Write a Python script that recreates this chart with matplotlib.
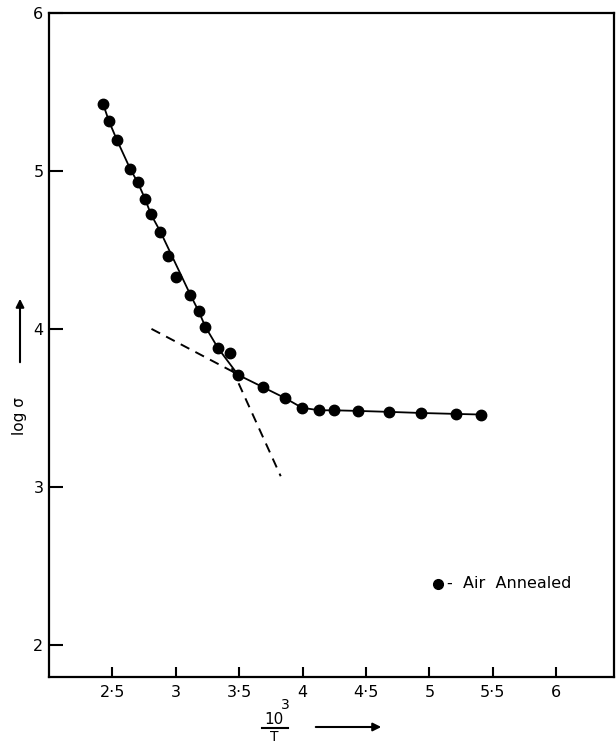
"""
log sigma vs 10^3/T - air annealed sample.
"""
import matplotlib
matplotlib.use("Agg")
import matplotlib.pyplot as plt

inv_t = [2.426, 2.473, 2.536, 2.642, 2.700, 2.757, 2.804, 2.879, 2.942, 3.005,
         3.115, 3.181, 3.233, 3.333, 3.425, 3.491, 3.688, 3.864, 3.995, 4.132,
         4.245, 4.440, 4.681, 4.934, 5.213, 5.410]
log_sigma = [5.426, 5.315, 5.196, 5.011, 4.928, 4.825, 4.726, 4.616, 4.460, 4.329,
             4.217, 4.112, 4.015, 3.880, 3.850, 3.711, 3.633, 3.563, 3.503, 3.487,
             3.487, 3.483, 3.477, 3.470, 3.464, 3.460]

# hand drawn curve through the points
curve_x = [2.426, 2.473, 2.536, 2.642, 2.700, 2.757, 2.804, 2.879, 3.115,
           3.181, 3.233, 3.333, 3.491, 3.688, 3.864, 3.995, 4.132, 4.245,
           4.440, 4.681, 4.934, 5.213, 5.410]
curve_y = [5.426, 5.315, 5.196, 5.011, 4.928, 4.825, 4.726, 4.616, 4.217,
           4.112, 4.015, 3.880, 3.711, 3.633, 3.563, 3.503, 3.487, 3.487,
           3.483, 3.477, 3.470, 3.464, 3.460]

# dashed extrapolations
dash1_x = [2.808, 3.457]
dash1_y = [4.002, 3.728]
dash2_x = [3.441, 3.827]
dash2_y = [3.753, 3.070]

xticks = [2.5, 3, 3.5, 4, 4.5, 5, 5.5, 6]
xtick_labels = ["2·5", "3", "3·5", "4", "4·5", "5", "5·5", "6"]
yticks = [2, 3, 4, 5, 6]
ytick_labels = ["2", "3", "4", "5", "6"]

fig = plt.figure(figsize=(6.16, 7.43), dpi=100)
ax = fig.add_axes([49 / 616, 1 - 677 / 743, (614 - 49) / 616, (677 - 13) / 743])

ax.plot(curve_x, curve_y, color="black", lw=1.3)
ax.plot(inv_t, log_sigma, "o", color="black", ms=7.5, ls="none")
ax.plot(dash1_x, dash1_y, color="black", lw=1.4, ls=(0, (5, 3.5)))
ax.plot(dash2_x, dash2_y, color="black", lw=1.4, ls=(0, (5, 3.5)))

ax.set_xlim(2.0, 6.455)
ax.set_ylim(1.8, 6.0)
ax.set_xticks(xticks)
ax.set_xticklabels(xtick_labels)
ax.set_yticks(yticks)
ax.set_yticklabels(ytick_labels)
ax.tick_params(axis="x", direction="in", length=7, width=1.5, labelsize=11.5, pad=6)
ax.tick_params(axis="y", direction="in", length=10, width=1.5, labelsize=11.5, pad=4)
for s in ax.spines.values():
    s.set_linewidth(1.6)

# legend
ax.plot([5.065], [2.386], "o", color="black", ms=7)
ax.text(5.14, 2.39, "-  Air  Annealed", fontsize=11.5, va="center", ha="left")

# y axis label with arrow
fig.text(20 / 616, 1 - 416 / 743, "log σ", rotation=90, fontsize=11,
         ha="center", va="center")
fig.add_artist(matplotlib.patches.FancyArrowPatch(
    (20 / 616, 1 - 365 / 743), (20 / 616, 1 - 296 / 743),
    transform=fig.transFigure, arrowstyle="-|>", mutation_scale=12,
    color="black", lw=1.5))

# x axis label as fraction with arrow
fig.text(274 / 616, 1 - 719 / 743, "10", fontsize=11, ha="center", va="center")
fig.text(285 / 616, 1 - 705 / 743, "3", fontsize=10, ha="center", va="center")
fig.add_artist(matplotlib.lines.Line2D([262 / 616, 288 / 616],
                                       [1 - 728 / 743, 1 - 728 / 743],
                                       transform=fig.transFigure,
                                       color="black", lw=1.5))
fig.text(274 / 616, 1 - 737 / 743, "T", fontsize=10, ha="center", va="center")
fig.add_artist(matplotlib.patches.FancyArrowPatch(
    (313 / 616, 1 - 727 / 743), (384 / 616, 1 - 727 / 743),
    transform=fig.transFigure, arrowstyle="-|>", mutation_scale=12,
    color="black", lw=1.5))

fig.savefig("out.png", dpi=100)
